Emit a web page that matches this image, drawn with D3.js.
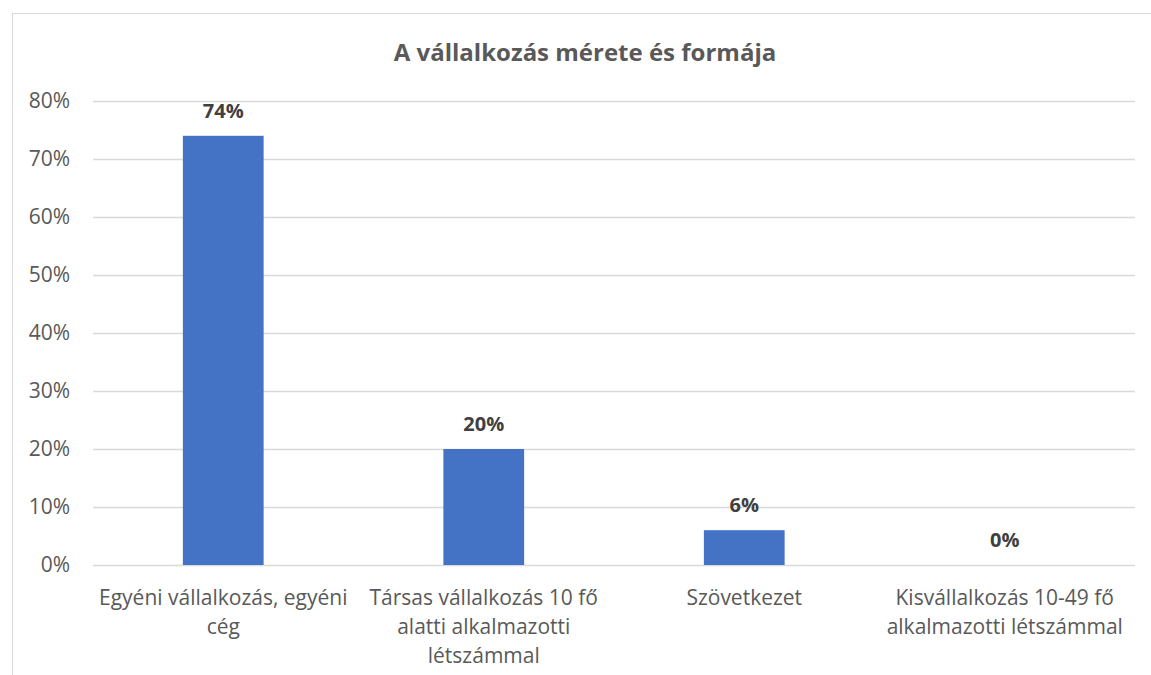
<!DOCTYPE html>
<html>
<head>
<meta charset="utf-8">
<script src="https://cdn.jsdelivr.net/npm/d3@7"></script>
<style>
  body { margin: 0; background: #fff; }
  text { font-family: "Open Sans", sans-serif; }
</style>
</head>
<body>
<div id="chart"></div>
<script>
// data
const categories = [
  ["Egyéni vállalkozás, egyéni", "cég"],
  ["Társas vállalkozás 10 fő", "alatti alkalmazotti", "létszámmal"],
  ["Szövetkezet"],
  ["Kisvállalkozás 10-49 fő", "alkalmazotti létszámmal"]
];
const values = [0.74, 0.20, 0.06, 0.00];
const yTicks = [0, 0.1, 0.2, 0.3, 0.4, 0.5, 0.6, 0.7, 0.8];
const title = "A vállalkozás mérete és formája";

const W = 1151, H = 675;
const margin = {top: 101, right: 16, bottom: 110, left: 93};
const width = W - margin.left - margin.right;
const height = H - margin.top - margin.bottom;

const textColor = "#595959";
const gridColor = "#d9d9d9";
const barColor = "#4472c4";

const svg = d3.select("#chart").append("svg")
  .attr("width", W)
  .attr("height", H);

// outer chart border
svg.append("rect")
  .attr("x", 12.5).attr("y", 13.5)
  .attr("width", W + 20).attr("height", H + 20)
  .attr("fill", "none")
  .attr("stroke", gridColor);

svg.append("text")
  .attr("x", 585).attr("y", 61)
  .attr("text-anchor", "middle")
  .attr("fill", textColor)
  .style("font-size", "24px")
  .style("font-weight", "bold")
  .text(title);

const g = svg.append("g")
  .attr("transform", `translate(${margin.left},${margin.top})`);

const x = d3.scaleBand()
  .domain(d3.range(categories.length))
  .range([0, width])
  .paddingInner(0.69)
  .paddingOuter(0.345);

const y = d3.scaleLinear()
  .domain([0, 0.8])
  .range([height, 0]);

// gridlines + y labels
const yAxis = d3.axisLeft(y)
  .tickValues(yTicks)
  .tickFormat(d3.format(".0%"))
  .tickSize(-width)
  .tickPadding(23);

g.append("g")
  .call(yAxis)
  .call(s => s.select(".domain").remove())
  .call(s => s.selectAll("line").attr("stroke", gridColor).attr("stroke-width", 1.3))
  .call(s => s.selectAll("text")
    .attr("fill", textColor)
    .style("font-size", "21px")
    .style("font-family", "'Open Sans', sans-serif"));

// bars
g.selectAll("rect.bar")
  .data(values)
  .enter().append("rect")
    .attr("class", "bar")
    .attr("x", (d, i) => x(i))
    .attr("y", d => y(d))
    .attr("width", x.bandwidth())
    .attr("height", d => height - y(d))
    .attr("fill", barColor);

// value labels
g.selectAll("text.val")
  .data(values)
  .enter().append("text")
    .attr("class", "val")
    .attr("x", (d, i) => x(i) + x.bandwidth() / 2)
    .attr("y", d => y(d) - 18)
    .attr("text-anchor", "middle")
    .attr("fill", "#404040")
    .style("font-size", "20px")
    .style("font-weight", "bold")
    .text(d => d3.format(".0%")(d));

// category labels
const xl = g.append("g")
  .selectAll("text")
  .data(categories)
  .enter().append("text")
    .attr("text-anchor", "middle")
    .attr("fill", textColor)
    .style("font-size", "21px")
    .attr("transform", (d, i) => `translate(${x(i) + x.bandwidth() / 2},${height + 40})`);

xl.selectAll("tspan")
  .data(d => d)
  .enter().append("tspan")
    .attr("x", 0)
    .attr("y", (d, i) => i * 29)
    .text(d => d);
</script>
</body>
</html>
